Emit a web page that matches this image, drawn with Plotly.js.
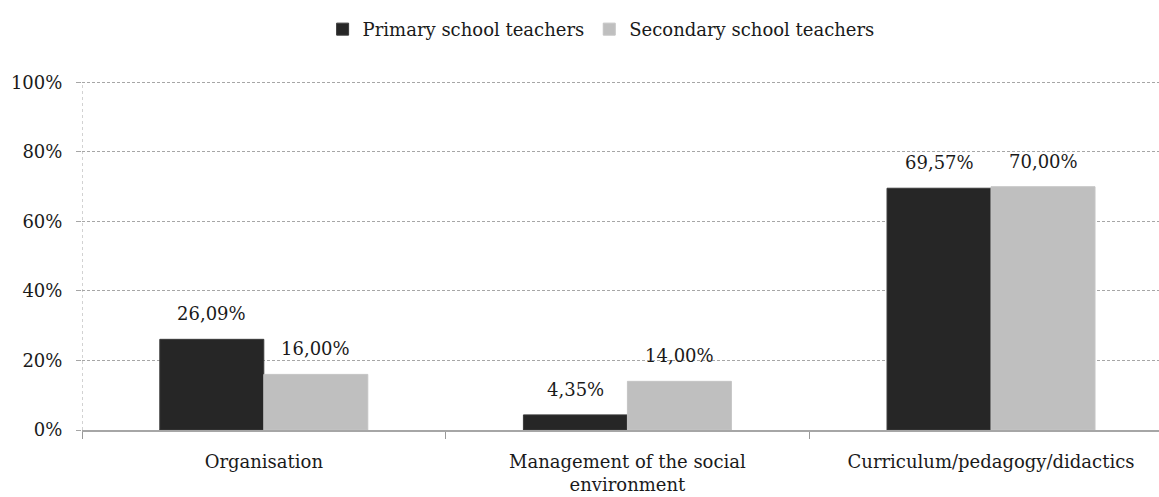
<!DOCTYPE html>
<html>
<head>
<meta charset="utf-8">
<script src="https://cdn.plot.ly/plotly-3.0.1.min.js"></script>
<style>html,body{margin:0;padding:0;background:#fff;}#chart{width:1159px;height:497px;}</style>
</head>
<body>
<div id="chart"></div>
<script>
var categories = ["Organisation", "Management of the social<br>environment", "Curriculum/pedagogy/didactics"];
var seriesNames = ["Primary school teachers", "Secondary school teachers"];
var primaryValues = [0.2609, 0.0435, 0.6957];
var secondaryValues = [0.16, 0.14, 0.70];
var yTickVals = [0, 0.2, 0.4, 0.6, 0.8, 1.0];

var FONT = "DejaVu Serif, Palatino Linotype, Book Antiqua, serif";
var FS = 18;
var colors = ["#262626", "#bfbfbf"];
var seriesValues = [primaryValues, secondaryValues];

var traces = seriesValues.map(function (vals, k) {
  return {
    type: "bar",
    name: seriesNames[k],
    x: categories,
    y: vals,
    marker: {color: colors[k], line: {color: k === 0 ? "#3a3a3a" : "#c4c4c4", width: 1}},
    hoverinfo: "skip"
  };
});

var annotations = [];
var offs = [-0.143, 0.143];
seriesValues.forEach(function (vals, k) {
  vals.forEach(function (v, i) {
    annotations.push({
      xref: "x", yref: "y", x: i + offs[k], y: v,
      text: (v * 100).toFixed(2).replace(".", ",") + "%",
      showarrow: false, yanchor: "bottom", yshift: 13,
      font: {family: FONT, size: FS, color: "#1a1a1a"}
    });
  });
});

var layout = {
  width: 1159, height: 497,
  margin: {l: 82, r: 0, t: 79, b: 67},
  paper_bgcolor: "#ffffff", plot_bgcolor: "#ffffff",
  font: {family: FONT, size: FS, color: "#1a1a1a"},
  separators: ",.",
  barmode: "group",
  bargap: 0.428,
  bargroupgap: 0,
  showlegend: true,
  legend: {
    orientation: "h", x: 0.482, xanchor: "center", y: 0.978, yref: "container", yanchor: "top",
    font: {family: FONT, size: FS, color: "#1a1a1a"},
    traceorder: "normal", itemclick: false
  },
  xaxis: {
    type: "category",
    range: [-0.5, 2.462],
    tickson: "boundaries",
    ticks: "outside", ticklen: 7, tickcolor: "#999999", tickwidth: 1,
    showgrid: false,
    showline: true, linecolor: "#a6a6a6", linewidth: 2,
    zeroline: false,
    tickfont: {family: FONT, size: FS, color: "#1a1a1a"},
    ticklabelstandoff: 14,
    fixedrange: true
  },
  yaxis: {
    range: [0, 1.01],
    tickvals: yTickVals,
    tickformat: ".0%",
    ticks: "outside", ticklen: 5, tickcolor: "#a6a6a6",
    showgrid: true, gridcolor: "#a6a6a6", griddash: "3px,2px", gridwidth: 1,
    showline: false, zeroline: false,
    tickfont: {family: FONT, size: FS, color: "#1a1a1a"},
    ticklabelstandoff: 10,
    fixedrange: true
  },
  shapes: [{
    type: "line", xref: "x", yref: "y", x0: -0.5, x1: -0.5, y0: 0, y1: 1,
    line: {color: "#a6a6a6", width: 1, dash: "dot"}
  }],
  annotations: annotations
};

Plotly.newPlot("chart", traces, layout, {displayModeBar: false, staticPlot: true});
</script>
</body>
</html>
